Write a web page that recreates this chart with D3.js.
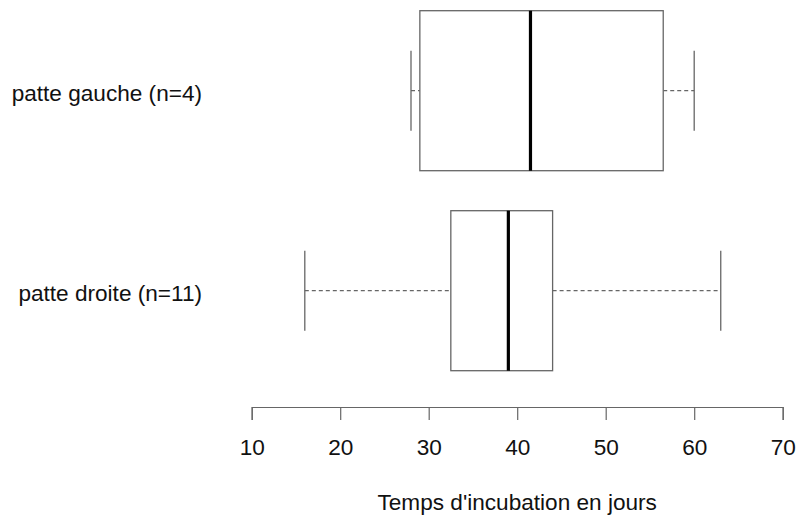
<!DOCTYPE html>
<html>
<head>
<meta charset="utf-8">
<script src="https://cdn.jsdelivr.net/npm/d3@7"></script>
<style>
  body { margin: 0; background: #fff; }
  text { font-family: Arial, "Liberation Sans", sans-serif; }
</style>
</head>
<body>
<div id="chart"></div>
<script>
// Chart data
const groups = ["patte gauche (n=4)", "patte droite (n=11)"];
const whiskerLow = [28, 16];
const q1 = [29, 32.5];
const medians = [41.5, 39];
const q3 = [56.5, 44];
const whiskerHigh = [60, 63];
const xTicks = [10, 20, 30, 40, 50, 60, 70];
const xTitle = "Temps d'incubation en jours";

const width = 796;
const height = 516;
const lineColor = "#666";
const fontSize = "22.6px";

const svg = d3.select("#chart")
  .append("svg")
  .attr("width", width)
  .attr("height", height);

// scales
const x = d3.scaleLinear()
  .domain([10, 70])
  .range([251.7, 782.7]);

const y = d3.scaleBand()
  .domain(groups)
  .range([-9.3, 390.7])
  .paddingInner(0.2)
  .paddingOuter(0.1);

const stats = groups.map((g, i) => ({
  name: g,
  lo: whiskerLow[i],
  q1: q1[i],
  med: medians[i],
  q3: q3[i],
  hi: whiskerHigh[i]
}));

const box = svg.append("g")
  .selectAll("g")
  .data(stats)
  .enter()
  .append("g");

const bw = y.bandwidth();
const mid = d => y(d.name) + bw / 2;

// dashed whiskers
box.append("line")
  .attr("x1", d => x(d.lo)).attr("x2", d => x(d.q1))
  .attr("y1", mid).attr("y2", mid)
  .attr("stroke", lineColor).attr("stroke-width", 1.2)
  .attr("stroke-dasharray", "4,3");
box.append("line")
  .attr("x1", d => x(d.q3)).attr("x2", d => x(d.hi))
  .attr("y1", mid).attr("y2", mid)
  .attr("stroke", lineColor).attr("stroke-width", 1.2)
  .attr("stroke-dasharray", "4,3");

// whisker caps
box.selectAll(".cap")
  .data(d => [d.lo, d.hi].map(v => ({ v, d })))
  .enter()
  .append("line")
  .attr("x1", c => x(c.v)).attr("x2", c => x(c.v))
  .attr("y1", c => mid(c.d) - bw / 4).attr("y2", c => mid(c.d) + bw / 4)
  .attr("stroke", lineColor).attr("stroke-width", 1.3);

// boxes
box.append("rect")
  .attr("x", d => x(d.q1))
  .attr("y", d => y(d.name))
  .attr("width", d => x(d.q3) - x(d.q1))
  .attr("height", bw)
  .attr("fill", "white")
  .attr("stroke", lineColor)
  .attr("stroke-width", 1.3);

// medians
box.append("line")
  .attr("x1", d => x(d.med)).attr("x2", d => x(d.med))
  .attr("y1", d => y(d.name)).attr("y2", d => y(d.name) + bw)
  .attr("stroke", "#000").attr("stroke-width", 3.2);

// x axis
const xAxis = svg.append("g")
  .attr("transform", "translate(0,407)")
  .call(d3.axisBottom(x).tickValues(xTicks).tickSize(13).tickPadding(19));
xAxis.select(".domain").attr("stroke", lineColor).attr("stroke-width", 1.2);
xAxis.selectAll(".tick line").attr("stroke", lineColor).attr("stroke-width", 1.2);
xAxis.selectAll(".tick text")
  .attr("fill", "#111")
  .style("font-size", fontSize);

// group labels
const yAxis = svg.append("g")
  .attr("transform", "translate(202,0)")
  .call(d3.axisLeft(y).tickSize(0).tickPadding(0));
yAxis.select(".domain").remove();
yAxis.selectAll(".tick text")
  .attr("dy", "0.45em")
  .attr("fill", "#111")
  .style("font-size", fontSize);

// axis title
svg.append("text")
  .attr("x", (x(10) + x(70)) / 2)
  .attr("y", 510)
  .attr("text-anchor", "middle")
  .attr("fill", "#111")
  .style("font-size", fontSize)
  .text(xTitle);
</script>
</body>
</html>
